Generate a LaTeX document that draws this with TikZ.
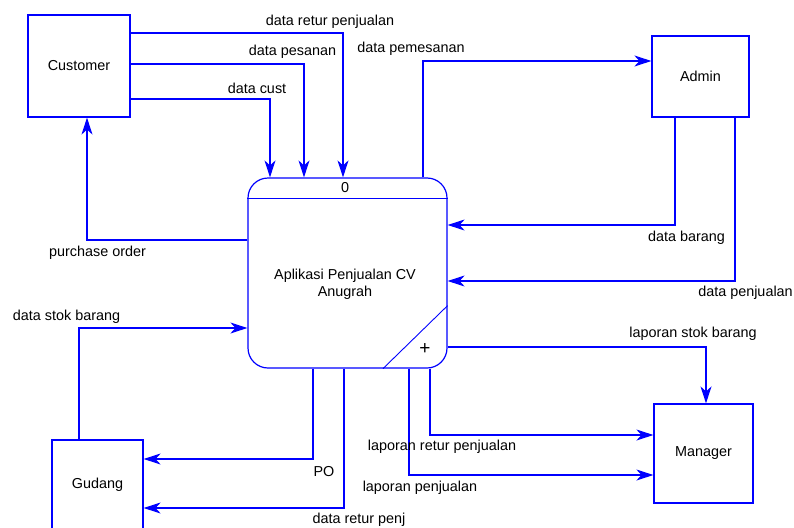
\documentclass[tikz,border=0pt]{standalone}
\usepackage{fontspec}
\setmainfont{Liberation Sans}
\usetikzlibrary{arrows.meta}

\tikzset{
  dfd/.style={draw={rgb,255:red,0;green,0;blue,255}, line width=1.2pt},
  entity/.style={dfd, inner sep=0pt},
  flow/.style={draw={rgb,255:red,0;green,0;blue,255}, line width=1.2pt, -{Stealth[length=17pt,width=11pt,inset=5pt]}},
  lbl/.style={inner sep=0pt, font=\fontsize{14.4}{17}\selectfont}
}

\begin{document}
\begin{tikzpicture}[x=1pt,y=1pt,yscale=-1]
\useasboundingbox (0,0) rectangle (794,527);

%Shape: Process
\node [dfd, rounded corners=20pt, minimum width=199pt, minimum height=190pt, inner sep=0pt] (proc) at (347.5,273) {};
\draw [dfd] ([yshift=21]proc.north west) -- ([yshift=21]proc.north east);
\draw [dfd, line width=0.9pt] ([xshift=35.5]proc.south) -- ([yshift=-63]proc.south east);
%Shape: Entities
\node [entity, minimum width=102pt, minimum height=102pt] (cust) at (79,66) {};
\node [entity, minimum width=97pt, minimum height=81pt] (admin) at (700.5,76.5) {};
\node [entity, minimum width=91pt, minimum height=90pt] (gud) at (97.5,485) {};
\node [entity, minimum width=99pt, minimum height=99pt] (man) at (703.5,453.5) {};

% Text Node
\node [lbl] (tcust) at (cust) {Customer};
\node [lbl] (tadmin) at (admin) {Admin};
\node [lbl] (tgud) at (gud) {Gudang};
\node [lbl] (tman) at (man) {Manager};
\node [lbl] (tnum) at (345,188) {0};
\node [lbl, align=center] (tproc) at (345,284) {Aplikasi Penjualan CV\\Anugrah};
\node [inner sep=0pt, font=\fontsize{19}{20}\selectfont] (tplus) at (425,349) {+};

%Flows
\draw [flow] ([yshift=-33]cust.east) -| ([xshift=-4.5]proc.north);
\draw [flow] ([yshift=-2]cust.east) -| ([xshift=-43.5]proc.north);
\draw [flow] ([yshift=33]cust.east) -| ([xshift=-77.5]proc.north);
\draw [flow] ([xshift=75.5]proc.north) |- ([yshift=-15.5]admin.west);
\draw [flow] ([xshift=-25.5]admin.south) |- ([yshift=-48]proc.east);
\draw [flow] ([xshift=34.5]admin.south) |- ([yshift=8]proc.east);
\draw [flow] ([yshift=-33]proc.west) -| ([xshift=8]cust.south);
\draw [flow] ([xshift=-18.5]gud.north) |- ([yshift=55]proc.west);
\draw [flow] ([xshift=-34.5]proc.south) |- ([yshift=-26]gud.east);
\draw [flow] ([xshift=-3.5]proc.south) |- ([yshift=23]gud.east);
\draw [flow] ([yshift=74]proc.east) -| ([xshift=2.5]man.north);
\draw [flow] ([xshift=82.5]proc.south) |- ([yshift=-18.5]man.west);
\draw [flow] ([xshift=61.5]proc.south) |- ([yshift=21.5]man.west);

% Text Node
\node [lbl] (lretur) at (330,22) {data retur penjualan};
\node [lbl] (lpesan) at (292.5,52) {data pesanan};
\node [lbl] (lcust) at (257,88) {data cust};
\node [lbl] (lpemesan) at (411,49) {data pemesanan};
\node [lbl] (lbarang) at (686.5,238) {data barang};
\node [lbl] (ljual) at (745.5,293) {data penjualan};
\node [lbl] (lstok) at (693,334) {laporan stok barang};
\node [lbl] (lpo) at (97.5,253) {purchase order};
\node [lbl] (ldstok) at (66.5,317) {data stok barang};
\node [lbl] (lPO) at (324,472) {PO};
\node [lbl] (lrpenj) at (359,520) {data retur penj};
\node [lbl] (llretur) at (442,447) {laporan retur penjualan};
\node [lbl] (lljual) at (420,488) {laporan penjualan};

\end{tikzpicture}
\end{document}
